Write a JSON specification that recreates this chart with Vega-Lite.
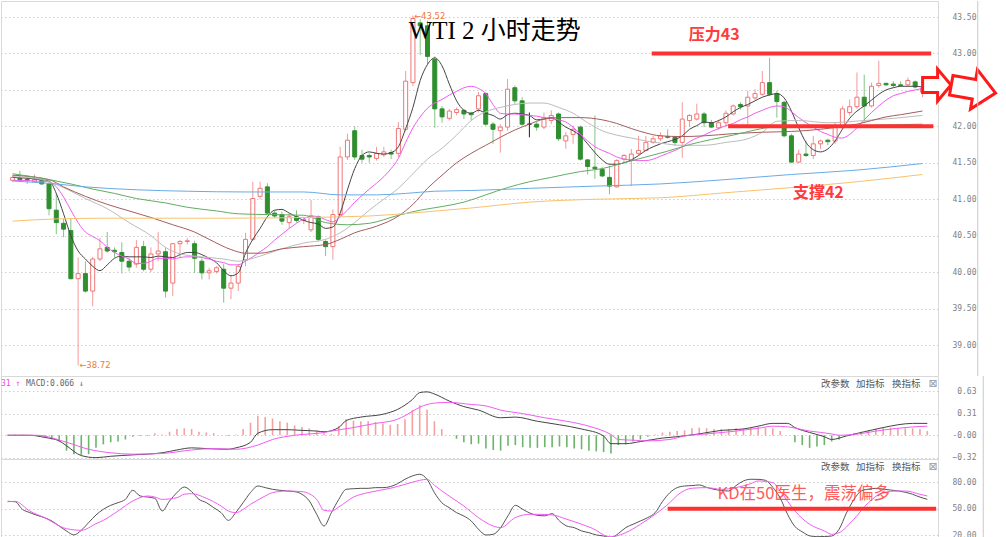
{
"$schema":"https://vega.github.io/schema/vega-lite/v6.json",
"padding":0,
"background":"white",
"spacing":0,
"bounds":"flush",
"resolve":{"scale":{"color":"independent"}},
"config":{"view":{"stroke":"#d9d9d9","strokeWidth":1},
"axis":{"labelFont":"DejaVu Sans Mono","labelFontSize":8,"labelColor":"#808080","labelAlign":"right","labelPadding":38,"domain":false,"ticks":false,"grid":true,"gridColor":"#cfcfcf","gridDash":[1.5,2.5],"gridWidth":1},
"text":{"font":"Noto Sans CJK SC"}},
"datasets":{
"candles":[
{"i":0,"o":41.26,"h":41.33,"l":41.24,"c":41.30},{"i":1,"o":41.29,"h":41.39,"l":41.24,"c":41.27},{"i":2,"o":41.27,"h":41.30,"l":41.21,"c":41.26},{"i":3,"o":41.24,"h":41.34,"l":41.23,"c":41.27},{"i":4,"o":41.26,"h":41.28,"l":41.20,"c":41.21},{"i":5,"o":41.21,"h":41.24,"l":40.78,"c":40.87},{"i":6,"o":40.85,"h":41.08,"l":40.52,"c":40.68},{"i":7,"o":40.67,"h":40.73,"l":40.48,"c":40.59},{"i":8,"o":40.57,"h":40.73,"l":39.90,"c":39.91},{"i":9,"o":39.91,"h":40.20,"l":38.72,"c":39.98},
{"i":10,"o":39.98,"h":40.15,"l":39.72,"c":39.74},{"i":11,"o":39.74,"h":40.21,"l":39.53,"c":40.18},{"i":12,"o":40.18,"h":40.47,"l":40.15,"c":40.32},{"i":13,"o":40.34,"h":40.55,"l":40.27,"c":40.29},{"i":14,"o":40.30,"h":40.34,"l":40.20,"c":40.28},{"i":15,"o":40.27,"h":40.41,"l":39.98,"c":40.15},{"i":16,"o":40.15,"h":40.19,"l":40.01,"c":40.07},{"i":17,"o":40.11,"h":40.44,"l":40.06,"c":40.34},{"i":18,"o":40.35,"h":40.43,"l":40.01,"c":40.04},{"i":19,"o":40.04,"h":40.34,"l":40.00,"c":40.25},
{"i":20,"o":40.25,"h":40.55,"l":40.15,"c":40.29},{"i":21,"o":40.28,"h":40.34,"l":39.65,"c":39.74},{"i":22,"o":39.85,"h":40.40,"l":39.67,"c":40.39},{"i":23,"o":40.39,"h":40.44,"l":40.20,"c":40.42},{"i":24,"o":40.42,"h":40.47,"l":40.38,"c":40.43},{"i":25,"o":40.39,"h":40.43,"l":39.99,"c":40.19},{"i":26,"o":40.15,"h":40.19,"l":39.90,"c":39.99},{"i":27,"o":39.99,"h":40.06,"l":39.90,"c":40.02},{"i":28,"o":40.01,"h":40.08,"l":39.98,"c":40.06},{"i":29,"o":40.04,"h":40.11,"l":39.58,"c":39.78},
{"i":30,"o":39.78,"h":39.96,"l":39.63,"c":39.85},{"i":31,"o":39.85,"h":40.11,"l":39.74,"c":40.08},{"i":32,"o":40.17,"h":40.54,"l":40.08,"c":40.45},{"i":33,"o":40.45,"h":41.24,"l":40.43,"c":41.01},{"i":34,"o":41.04,"h":41.24,"l":41.00,"c":41.15},{"i":35,"o":41.17,"h":41.22,"l":40.79,"c":40.81},{"i":36,"o":40.81,"h":40.85,"l":40.74,"c":40.77},{"i":37,"o":40.79,"h":40.83,"l":40.65,"c":40.70},{"i":38,"o":40.68,"h":40.80,"l":40.60,"c":40.76},{"i":39,"o":40.76,"h":40.85,"l":40.68,"c":40.71},
{"i":40,"o":40.71,"h":40.76,"l":40.66,"c":40.72},{"i":41,"o":40.58,"h":40.99,"l":40.55,"c":40.77},{"i":42,"o":40.76,"h":40.78,"l":40.42,"c":40.45},{"i":43,"o":40.42,"h":40.45,"l":40.22,"c":40.35},{"i":44,"o":40.35,"h":40.86,"l":40.17,"c":40.79},{"i":45,"o":40.79,"h":41.72,"l":40.76,"c":41.58},{"i":46,"o":41.58,"h":41.90,"l":41.54,"c":41.81},{"i":47,"o":41.94,"h":42.00,"l":41.54,"c":41.58},{"i":48,"o":41.60,"h":41.68,"l":41.50,"c":41.55},{"i":49,"o":41.60,"h":41.63,"l":41.50,"c":41.58},
{"i":50,"o":41.56,"h":41.72,"l":41.53,"c":41.63},{"i":51,"o":41.61,"h":41.72,"l":41.58,"c":41.65},{"i":52,"o":41.64,"h":41.68,"l":41.55,"c":41.62},{"i":53,"o":41.63,"h":42.06,"l":41.58,"c":41.97},{"i":54,"o":41.96,"h":42.76,"l":41.93,"c":42.62},{"i":55,"o":42.60,"h":43.52,"l":42.55,"c":43.48},{"i":56,"o":43.42,"h":43.47,"l":42.98,"c":43.38},{"i":57,"o":43.38,"h":43.45,"l":42.85,"c":42.96},{"i":58,"o":42.92,"h":42.96,"l":41.98,"c":42.24},{"i":59,"o":42.24,"h":42.28,"l":42.05,"c":42.13},
{"i":60,"o":42.11,"h":42.24,"l":42.08,"c":42.21},{"i":61,"o":42.19,"h":42.26,"l":42.15,"c":42.23},{"i":62,"o":42.22,"h":42.24,"l":42.10,"c":42.17},{"i":63,"o":42.18,"h":42.20,"l":42.08,"c":42.16},{"i":64,"o":42.24,"h":42.47,"l":42.19,"c":42.42},{"i":65,"o":42.45,"h":42.47,"l":42.01,"c":42.03},{"i":66,"o":42.03,"h":42.06,"l":41.76,"c":41.96},{"i":67,"o":41.94,"h":42.03,"l":41.64,"c":41.99},{"i":68,"o":41.99,"h":42.65,"l":41.94,"c":42.51},{"i":69,"o":42.53,"h":42.56,"l":42.31,"c":42.35},
{"i":70,"o":42.35,"h":42.40,"l":42.01,"c":42.03},{"i":71,"o":42.03,"h":42.19,"l":41.85,"c":42.03},{"i":72,"o":42.03,"h":42.06,"l":41.94,"c":41.99},{"i":73,"o":41.99,"h":42.19,"l":41.96,"c":42.12},{"i":74,"o":42.08,"h":42.22,"l":42.03,"c":42.15},{"i":75,"o":42.17,"h":42.19,"l":41.80,"c":41.83},{"i":76,"o":41.80,"h":41.92,"l":41.69,"c":41.87},{"i":77,"o":41.89,"h":42.01,"l":41.76,"c":41.96},{"i":78,"o":41.99,"h":42.01,"l":41.53,"c":41.55},{"i":79,"o":41.54,"h":41.55,"l":41.34,"c":41.45},
{"i":80,"o":41.44,"h":42.15,"l":41.28,"c":41.42},{"i":81,"o":41.41,"h":41.44,"l":41.30,"c":41.32},{"i":82,"o":41.30,"h":41.46,"l":41.07,"c":41.18},{"i":83,"o":41.17,"h":41.55,"l":41.16,"c":41.53},{"i":84,"o":41.55,"h":41.62,"l":41.50,"c":41.60},{"i":85,"o":41.53,"h":41.69,"l":41.18,"c":41.62},{"i":86,"o":41.63,"h":41.87,"l":41.60,"c":41.67},{"i":87,"o":41.67,"h":41.87,"l":41.66,"c":41.78},{"i":88,"o":41.78,"h":41.87,"l":41.76,"c":41.83},{"i":89,"o":41.83,"h":41.92,"l":41.80,"c":41.87},
{"i":90,"o":41.86,"h":41.96,"l":41.83,"c":41.85},{"i":91,"o":41.85,"h":41.87,"l":41.73,"c":41.78},{"i":92,"o":41.78,"h":42.33,"l":41.57,"c":42.10},{"i":93,"o":42.08,"h":42.17,"l":41.99,"c":42.15},{"i":94,"o":42.10,"h":42.31,"l":42.08,"c":42.17},{"i":95,"o":42.17,"h":42.20,"l":41.99,"c":42.05},{"i":96,"o":42.05,"h":42.09,"l":41.98,"c":41.99},{"i":97,"o":41.98,"h":42.09,"l":41.95,"c":42.05},{"i":98,"o":42.05,"h":42.22,"l":42.00,"c":42.18},{"i":99,"o":42.17,"h":42.30,"l":42.15,"c":42.28},
{"i":100,"o":42.30,"h":42.33,"l":42.23,"c":42.27},{"i":101,"o":42.28,"h":42.49,"l":41.99,"c":42.40},{"i":102,"o":42.39,"h":42.51,"l":42.36,"c":42.45},{"i":103,"o":42.44,"h":42.76,"l":42.42,"c":42.60},{"i":104,"o":42.60,"h":42.94,"l":42.42,"c":42.44},{"i":105,"o":42.45,"h":42.49,"l":42.12,"c":42.34},{"i":106,"o":42.33,"h":42.35,"l":41.85,"c":41.87},{"i":107,"o":41.87,"h":41.90,"l":41.50,"c":41.51},{"i":108,"o":41.51,"h":41.68,"l":41.50,"c":41.62},{"i":109,"o":41.62,"h":41.80,"l":41.58,"c":41.60},
{"i":110,"o":41.60,"h":41.87,"l":41.55,"c":41.76},{"i":111,"o":41.76,"h":41.82,"l":41.69,"c":41.80},{"i":112,"o":41.81,"h":41.83,"l":41.74,"c":41.79},{"i":113,"o":41.80,"h":42.05,"l":41.76,"c":42.00},{"i":114,"o":41.99,"h":42.28,"l":41.97,"c":42.24},{"i":115,"o":42.19,"h":42.37,"l":42.15,"c":42.27},{"i":116,"o":42.27,"h":42.74,"l":42.24,"c":42.40},{"i":117,"o":42.40,"h":42.71,"l":42.05,"c":42.28},{"i":118,"o":42.28,"h":42.60,"l":42.26,"c":42.55},{"i":119,"o":42.56,"h":42.90,"l":42.53,"c":42.59},
{"i":120,"o":42.59,"h":42.60,"l":42.55,"c":42.57},{"i":121,"o":42.58,"h":42.62,"l":42.53,"c":42.56},{"i":122,"o":42.57,"h":42.62,"l":42.54,"c":42.56},{"i":123,"o":42.57,"h":42.67,"l":42.55,"c":42.63},{"i":124,"o":42.61,"h":42.63,"l":42.52,"c":42.54},{"i":125,"o":42.47,"h":42.55,"l":42.40,"c":42.52}
],
"ma":[
{"i":0,"s":"MA5","v":41.30},{"i":5,"s":"MA5","v":41.25},{"i":6,"s":"MA5","v":41.08},{"i":7,"s":"MA5","v":40.80},{"i":8,"s":"MA5","v":40.50},{"i":9,"s":"MA5","v":40.29},{"i":10,"s":"MA5","v":40.18},{"i":11,"s":"MA5","v":40.08},{"i":12,"s":"MA5","v":40.02},{"i":13,"s":"MA5","v":40.10},{"i":14,"s":"MA5","v":40.19},{"i":15,"s":"MA5","v":40.22},{"i":16,"s":"MA5","v":40.21},{"i":17,"s":"MA5","v":40.21},{"i":18,"s":"MA5","v":40.21},{"i":19,"s":"MA5","v":40.20},{"i":20,"s":"MA5","v":40.22},{"i":21,"s":"MA5","v":40.21},{"i":22,"s":"MA5","v":40.20},{"i":23,"s":"MA5","v":40.24},{"i":24,"s":"MA5","v":40.27},{"i":25,"s":"MA5","v":40.27},{"i":26,"s":"MA5","v":40.24},{"i":27,"s":"MA5","v":40.19},{"i":28,"s":"MA5","v":40.13},{"i":29,"s":"MA5","v":40.02},{"i":30,"s":"MA5","v":39.95},{"i":31,"s":"MA5","v":39.99},{"i":32,"s":"MA5","v":40.26},{"i":33,"s":"MA5","v":40.45},{"i":34,"s":"MA5","v":40.60},{"i":35,"s":"MA5","v":40.76},{"i":36,"s":"MA5","v":40.85},{"i":37,"s":"MA5","v":40.86},{"i":38,"s":"MA5","v":40.81},{"i":39,"s":"MA5","v":40.76},{"i":40,"s":"MA5","v":40.71},{"i":41,"s":"MA5","v":40.68},{"i":42,"s":"MA5","v":40.66},{"i":43,"s":"MA5","v":40.60},{"i":44,"s":"MA5","v":40.62},{"i":45,"s":"MA5","v":40.81},{"i":46,"s":"MA5","v":41.13},{"i":47,"s":"MA5","v":41.42},{"i":48,"s":"MA5","v":41.60},{"i":49,"s":"MA5","v":41.65},{"i":50,"s":"MA5","v":41.63},{"i":51,"s":"MA5","v":41.62},{"i":52,"s":"MA5","v":41.64},{"i":53,"s":"MA5","v":41.72},{"i":54,"s":"MA5","v":41.97},{"i":55,"s":"MA5","v":42.26},{"i":56,"s":"MA5","v":42.63},{"i":57,"s":"MA5","v":42.85},{"i":58,"s":"MA5","v":42.94},{"i":59,"s":"MA5","v":42.83},{"i":60,"s":"MA5","v":42.58},{"i":61,"s":"MA5","v":42.35},{"i":62,"s":"MA5","v":42.22},{"i":63,"s":"MA5","v":42.18},{"i":64,"s":"MA5","v":42.22},{"i":65,"s":"MA5","v":42.18},{"i":66,"s":"MA5","v":42.15},{"i":67,"s":"MA5","v":42.10},{"i":68,"s":"MA5","v":42.16},{"i":69,"s":"MA5","v":42.18},{"i":70,"s":"MA5","v":42.17},{"i":71,"s":"MA5","v":42.15},{"i":72,"s":"MA5","v":42.09},{"i":73,"s":"MA5","v":42.10},{"i":74,"s":"MA5","v":42.12},{"i":75,"s":"MA5","v":42.06},{"i":76,"s":"MA5","v":41.99},{"i":77,"s":"MA5","v":41.94},{"i":78,"s":"MA5","v":41.87},{"i":79,"s":"MA5","v":41.76},{"i":80,"s":"MA5","v":41.64},{"i":81,"s":"MA5","v":41.54},{"i":82,"s":"MA5","v":41.48},{"i":83,"s":"MA5","v":41.48},{"i":84,"s":"MA5","v":41.50},{"i":85,"s":"MA5","v":41.54},{"i":86,"s":"MA5","v":41.60},{"i":87,"s":"MA5","v":41.67},{"i":88,"s":"MA5","v":41.72},{"i":89,"s":"MA5","v":41.76},{"i":90,"s":"MA5","v":41.79},{"i":91,"s":"MA5","v":41.82},{"i":92,"s":"MA5","v":41.87},{"i":93,"s":"MA5","v":41.96},{"i":94,"s":"MA5","v":42.01},{"i":95,"s":"MA5","v":42.06},{"i":96,"s":"MA5","v":42.05},{"i":97,"s":"MA5","v":42.08},{"i":98,"s":"MA5","v":42.13},{"i":99,"s":"MA5","v":42.20},{"i":100,"s":"MA5","v":42.26},{"i":101,"s":"MA5","v":42.30},{"i":102,"s":"MA5","v":42.35},{"i":103,"s":"MA5","v":42.40},{"i":104,"s":"MA5","v":42.43},{"i":105,"s":"MA5","v":42.45},{"i":106,"s":"MA5","v":42.39},{"i":107,"s":"MA5","v":42.21},{"i":108,"s":"MA5","v":41.98},{"i":109,"s":"MA5","v":41.78},{"i":110,"s":"MA5","v":41.68},{"i":111,"s":"MA5","v":41.65},{"i":112,"s":"MA5","v":41.69},{"i":113,"s":"MA5","v":41.80},{"i":114,"s":"MA5","v":41.96},{"i":115,"s":"MA5","v":42.11},{"i":116,"s":"MA5","v":42.21},{"i":117,"s":"MA5","v":42.28},{"i":118,"s":"MA5","v":42.36},{"i":119,"s":"MA5","v":42.44},{"i":120,"s":"MA5","v":42.50},{"i":121,"s":"MA5","v":42.53},{"i":122,"s":"MA5","v":42.55},{"i":123,"s":"MA5","v":42.55},{"i":124,"s":"MA5","v":42.55},{"i":125,"s":"MA5","v":42.54},
{"i":0,"s":"MA10","v":41.26},{"i":5,"s":"MA10","v":41.24},{"i":6,"s":"MA10","v":41.17},{"i":7,"s":"MA10","v":41.03},{"i":8,"s":"MA10","v":40.85},{"i":9,"s":"MA10","v":40.68},{"i":10,"s":"MA10","v":40.55},{"i":11,"s":"MA10","v":40.49},{"i":12,"s":"MA10","v":40.43},{"i":13,"s":"MA10","v":40.34},{"i":14,"s":"MA10","v":40.27},{"i":15,"s":"MA10","v":40.22},{"i":16,"s":"MA10","v":40.18},{"i":17,"s":"MA10","v":40.12},{"i":18,"s":"MA10","v":40.12},{"i":19,"s":"MA10","v":40.15},{"i":20,"s":"MA10","v":40.19},{"i":21,"s":"MA10","v":40.19},{"i":22,"s":"MA10","v":40.18},{"i":23,"s":"MA10","v":40.20},{"i":24,"s":"MA10","v":40.21},{"i":25,"s":"MA10","v":40.21},{"i":26,"s":"MA10","v":40.20},{"i":27,"s":"MA10","v":40.18},{"i":28,"s":"MA10","v":40.15},{"i":29,"s":"MA10","v":40.13},{"i":30,"s":"MA10","v":40.10},{"i":31,"s":"MA10","v":40.10},{"i":32,"s":"MA10","v":40.15},{"i":33,"s":"MA10","v":40.21},{"i":34,"s":"MA10","v":40.28},{"i":35,"s":"MA10","v":40.35},{"i":36,"s":"MA10","v":40.44},{"i":37,"s":"MA10","v":40.52},{"i":38,"s":"MA10","v":40.60},{"i":39,"s":"MA10","v":40.67},{"i":40,"s":"MA10","v":40.73},{"i":41,"s":"MA10","v":40.77},{"i":42,"s":"MA10","v":40.76},{"i":43,"s":"MA10","v":40.72},{"i":44,"s":"MA10","v":40.69},{"i":45,"s":"MA10","v":40.76},{"i":46,"s":"MA10","v":40.85},{"i":47,"s":"MA10","v":40.96},{"i":48,"s":"MA10","v":41.05},{"i":49,"s":"MA10","v":41.14},{"i":50,"s":"MA10","v":41.22},{"i":51,"s":"MA10","v":41.31},{"i":52,"s":"MA10","v":41.42},{"i":53,"s":"MA10","v":41.56},{"i":54,"s":"MA10","v":41.78},{"i":55,"s":"MA10","v":41.98},{"i":56,"s":"MA10","v":42.13},{"i":57,"s":"MA10","v":42.25},{"i":58,"s":"MA10","v":42.32},{"i":59,"s":"MA10","v":42.37},{"i":60,"s":"MA10","v":42.43},{"i":61,"s":"MA10","v":42.48},{"i":62,"s":"MA10","v":42.53},{"i":63,"s":"MA10","v":42.55},{"i":64,"s":"MA10","v":42.52},{"i":65,"s":"MA10","v":42.45},{"i":66,"s":"MA10","v":42.30},{"i":67,"s":"MA10","v":42.18},{"i":68,"s":"MA10","v":42.17},{"i":69,"s":"MA10","v":42.17},{"i":70,"s":"MA10","v":42.16},{"i":71,"s":"MA10","v":42.15},{"i":72,"s":"MA10","v":42.14},{"i":73,"s":"MA10","v":42.12},{"i":74,"s":"MA10","v":42.11},{"i":75,"s":"MA10","v":42.09},{"i":76,"s":"MA10","v":42.06},{"i":77,"s":"MA10","v":41.99},{"i":78,"s":"MA10","v":41.89},{"i":79,"s":"MA10","v":41.80},{"i":80,"s":"MA10","v":41.72},{"i":81,"s":"MA10","v":41.67},{"i":82,"s":"MA10","v":41.63},{"i":83,"s":"MA10","v":41.58},{"i":84,"s":"MA10","v":41.55},{"i":85,"s":"MA10","v":41.54},{"i":86,"s":"MA10","v":41.53},{"i":87,"s":"MA10","v":41.53},{"i":88,"s":"MA10","v":41.55},{"i":89,"s":"MA10","v":41.59},{"i":90,"s":"MA10","v":41.63},{"i":91,"s":"MA10","v":41.67},{"i":92,"s":"MA10","v":41.72},{"i":93,"s":"MA10","v":41.79},{"i":94,"s":"MA10","v":41.84},{"i":95,"s":"MA10","v":41.88},{"i":96,"s":"MA10","v":41.93},{"i":97,"s":"MA10","v":41.97},{"i":98,"s":"MA10","v":42.01},{"i":99,"s":"MA10","v":42.04},{"i":100,"s":"MA10","v":42.09},{"i":101,"s":"MA10","v":42.13},{"i":102,"s":"MA10","v":42.18},{"i":103,"s":"MA10","v":42.22},{"i":104,"s":"MA10","v":42.26},{"i":105,"s":"MA10","v":42.28},{"i":106,"s":"MA10","v":42.27},{"i":107,"s":"MA10","v":42.20},{"i":108,"s":"MA10","v":42.12},{"i":109,"s":"MA10","v":42.05},{"i":110,"s":"MA10","v":41.99},{"i":111,"s":"MA10","v":41.93},{"i":112,"s":"MA10","v":41.89},{"i":113,"s":"MA10","v":41.85},{"i":114,"s":"MA10","v":41.84},{"i":115,"s":"MA10","v":41.89},{"i":116,"s":"MA10","v":41.98},{"i":117,"s":"MA10","v":42.09},{"i":118,"s":"MA10","v":42.19},{"i":119,"s":"MA10","v":42.28},{"i":120,"s":"MA10","v":42.36},{"i":121,"s":"MA10","v":42.42},{"i":122,"s":"MA10","v":42.45},{"i":123,"s":"MA10","v":42.48},{"i":124,"s":"MA10","v":42.50},{"i":125,"s":"MA10","v":42.52},
{"i":0,"s":"MA20","v":41.31},{"i":3,"s":"MA20","v":41.29},{"i":5,"s":"MA20","v":41.24},{"i":7,"s":"MA20","v":41.16},{"i":10,"s":"MA20","v":41.01},{"i":13,"s":"MA20","v":40.87},{"i":16,"s":"MA20","v":40.68},{"i":19,"s":"MA20","v":40.50},{"i":21,"s":"MA20","v":40.34},{"i":23,"s":"MA20","v":40.25},{"i":26,"s":"MA20","v":40.21},{"i":29,"s":"MA20","v":40.18},{"i":31,"s":"MA20","v":40.15},{"i":34,"s":"MA20","v":40.22},{"i":37,"s":"MA20","v":40.32},{"i":40,"s":"MA20","v":40.40},{"i":43,"s":"MA20","v":40.45},{"i":45,"s":"MA20","v":40.54},{"i":47,"s":"MA20","v":40.68},{"i":49,"s":"MA20","v":40.85},{"i":51,"s":"MA20","v":41.00},{"i":53,"s":"MA20","v":41.15},{"i":55,"s":"MA20","v":41.35},{"i":57,"s":"MA20","v":41.55},{"i":59,"s":"MA20","v":41.70},{"i":61,"s":"MA20","v":41.88},{"i":63,"s":"MA20","v":42.08},{"i":65,"s":"MA20","v":42.20},{"i":67,"s":"MA20","v":42.26},{"i":69,"s":"MA20","v":42.30},{"i":71,"s":"MA20","v":42.32},{"i":73,"s":"MA20","v":42.32},{"i":75,"s":"MA20","v":42.26},{"i":77,"s":"MA20","v":42.18},{"i":79,"s":"MA20","v":42.05},{"i":81,"s":"MA20","v":41.94},{"i":83,"s":"MA20","v":41.88},{"i":85,"s":"MA20","v":41.84},{"i":87,"s":"MA20","v":41.80},{"i":89,"s":"MA20","v":41.77},{"i":92,"s":"MA20","v":41.74},{"i":95,"s":"MA20","v":41.74},{"i":98,"s":"MA20","v":41.78},{"i":101,"s":"MA20","v":41.83},{"i":103,"s":"MA20","v":41.92},{"i":105,"s":"MA20","v":42.07},{"i":108,"s":"MA20","v":42.08},{"i":112,"s":"MA20","v":42.05},{"i":117,"s":"MA20","v":42.08},{"i":121,"s":"MA20","v":42.11},{"i":125,"s":"MA20","v":42.15},
{"i":0,"s":"MA30","v":41.33},{"i":5,"s":"MA30","v":41.27},{"i":7,"s":"MA30","v":41.17},{"i":10,"s":"MA30","v":41.04},{"i":13,"s":"MA30","v":40.93},{"i":16,"s":"MA30","v":40.84},{"i":19,"s":"MA30","v":40.75},{"i":22,"s":"MA30","v":40.65},{"i":25,"s":"MA30","v":40.55},{"i":27,"s":"MA30","v":40.45},{"i":30,"s":"MA30","v":40.31},{"i":32,"s":"MA30","v":40.26},{"i":34,"s":"MA30","v":40.26},{"i":37,"s":"MA30","v":40.32},{"i":40,"s":"MA30","v":40.35},{"i":43,"s":"MA30","v":40.38},{"i":45,"s":"MA30","v":40.45},{"i":47,"s":"MA30","v":40.54},{"i":50,"s":"MA30","v":40.63},{"i":53,"s":"MA30","v":40.77},{"i":55,"s":"MA30","v":40.93},{"i":57,"s":"MA30","v":41.15},{"i":59,"s":"MA30","v":41.33},{"i":61,"s":"MA30","v":41.50},{"i":63,"s":"MA30","v":41.63},{"i":65,"s":"MA30","v":41.74},{"i":67,"s":"MA30","v":41.85},{"i":69,"s":"MA30","v":41.95},{"i":71,"s":"MA30","v":42.03},{"i":73,"s":"MA30","v":42.10},{"i":75,"s":"MA30","v":42.12},{"i":78,"s":"MA30","v":42.12},{"i":81,"s":"MA30","v":42.09},{"i":83,"s":"MA30","v":42.04},{"i":85,"s":"MA30","v":41.97},{"i":87,"s":"MA30","v":41.91},{"i":89,"s":"MA30","v":41.87},{"i":92,"s":"MA30","v":41.86},{"i":95,"s":"MA30","v":41.87},{"i":99,"s":"MA30","v":41.90},{"i":103,"s":"MA30","v":41.92},{"i":107,"s":"MA30","v":41.93},{"i":111,"s":"MA30","v":41.96},{"i":114,"s":"MA30","v":42.00},{"i":116,"s":"MA30","v":42.03},{"i":118,"s":"MA30","v":42.08},{"i":120,"s":"MA30","v":42.13},{"i":122,"s":"MA30","v":42.16},{"i":125,"s":"MA30","v":42.21},
{"i":0,"s":"MA60","v":41.35},{"i":5,"s":"MA60","v":41.27},{"i":8,"s":"MA60","v":41.21},{"i":11,"s":"MA60","v":41.14},{"i":14,"s":"MA60","v":41.08},{"i":17,"s":"MA60","v":41.01},{"i":21,"s":"MA60","v":40.95},{"i":24,"s":"MA60","v":40.89},{"i":28,"s":"MA60","v":40.84},{"i":31,"s":"MA60","v":40.80},{"i":35,"s":"MA60","v":40.79},{"i":40,"s":"MA60","v":40.78},{"i":43,"s":"MA60","v":40.68},{"i":46,"s":"MA60","v":40.65},{"i":49,"s":"MA60","v":40.67},{"i":53,"s":"MA60","v":40.78},{"i":56,"s":"MA60","v":40.85},{"i":59,"s":"MA60","v":40.90},{"i":62,"s":"MA60","v":40.96},{"i":65,"s":"MA60","v":41.06},{"i":68,"s":"MA60","v":41.16},{"i":71,"s":"MA60","v":41.24},{"i":74,"s":"MA60","v":41.30},{"i":78,"s":"MA60","v":41.38},{"i":81,"s":"MA60","v":41.42},{"i":84,"s":"MA60","v":41.50},{"i":87,"s":"MA60","v":41.58},{"i":90,"s":"MA60","v":41.66},{"i":93,"s":"MA60","v":41.75},{"i":96,"s":"MA60","v":41.82},{"i":99,"s":"MA60","v":41.88},{"i":102,"s":"MA60","v":41.95},{"i":105,"s":"MA60","v":42.00},{"i":110,"s":"MA60","v":42.01},{"i":115,"s":"MA60","v":42.01},{"i":120,"s":"MA60","v":42.02},{"i":125,"s":"MA60","v":42.03},
{"i":0,"s":"MA120","v":41.25},{"i":6,"s":"MA120","v":41.21},{"i":10,"s":"MA120","v":41.17},{"i":17,"s":"MA120","v":41.13},{"i":24,"s":"MA120","v":41.11},{"i":32,"s":"MA120","v":41.10},{"i":40,"s":"MA120","v":41.10},{"i":45,"s":"MA120","v":41.06},{"i":50,"s":"MA120","v":41.06},{"i":54,"s":"MA120","v":41.08},{"i":58,"s":"MA120","v":41.11},{"i":63,"s":"MA120","v":41.12},{"i":71,"s":"MA120","v":41.15},{"i":80,"s":"MA120","v":41.18},{"i":89,"s":"MA120","v":41.21},{"i":98,"s":"MA120","v":41.27},{"i":107,"s":"MA120","v":41.34},{"i":116,"s":"MA120","v":41.40},{"i":125,"s":"MA120","v":41.49},
{"i":0,"s":"MA250","v":40.70},{"i":6,"s":"MA250","v":40.73},{"i":13,"s":"MA250","v":40.74},{"i":30,"s":"MA250","v":40.74},{"i":40,"s":"MA250","v":40.75},{"i":49,"s":"MA250","v":40.77},{"i":56,"s":"MA250","v":40.82},{"i":63,"s":"MA250","v":40.88},{"i":71,"s":"MA250","v":40.96},{"i":80,"s":"MA250","v":41.00},{"i":89,"s":"MA250","v":41.02},{"i":98,"s":"MA250","v":41.09},{"i":107,"s":"MA250","v":41.16},{"i":116,"s":"MA250","v":41.24},{"i":125,"s":"MA250","v":41.34}
],
"hist":[
{"i":0,"h":0.01},{"i":1,"h":0.01},{"i":2,"h":0.01},{"i":3,"h":0.0},{"i":4,"h":-0.01},{"i":5,"h":-0.03},{"i":6,"h":-0.06},{"i":7,"h":-0.09},{"i":8,"h":-0.22},{"i":9,"h":-0.27},{"i":10,"h":-0.28},{"i":11,"h":-0.27},{"i":12,"h":-0.18},{"i":13,"h":-0.13},{"i":14,"h":-0.10},{"i":15,"h":-0.09},{"i":16,"h":-0.06},{"i":17,"h":-0.02},{"i":18,"h":-0.01},{"i":19,"h":-0.01},{"i":20,"h":0.03},{"i":21,"h":0.01},{"i":22,"h":0.05},{"i":23,"h":0.09},{"i":24,"h":0.10},{"i":25,"h":0.09},{"i":26,"h":0.05},{"i":27,"h":0.04},{"i":28,"h":0.03},{"i":29,"h":0.0},{"i":30,"h":-0.01},{"i":31,"h":0.01},{"i":32,"h":0.09},{"i":33,"h":0.18},{"i":34,"h":0.28},{"i":35,"h":0.26},{"i":36,"h":0.24},{"i":37,"h":0.20},{"i":38,"h":0.18},{"i":39,"h":0.14},{"i":40,"h":0.12},{"i":41,"h":0.10},{"i":42,"h":0.07},{"i":43,"h":0.04},{"i":44,"h":0.02},{"i":45,"h":0.13},{"i":46,"h":0.23},{"i":47,"h":0.21},{"i":48,"h":0.20},{"i":49,"h":0.20},{"i":50,"h":0.19},{"i":51,"h":0.17},{"i":52,"h":0.15},{"i":53,"h":0.16},{"i":54,"h":0.23},{"i":55,"h":0.36},{"i":56,"h":0.43},{"i":57,"h":0.37},{"i":58,"h":0.20},{"i":59,"h":0.09},{"i":60,"h":0.0},{"i":61,"h":-0.05},{"i":62,"h":-0.10},{"i":63,"h":-0.13},{"i":64,"h":-0.12},{"i":65,"h":-0.19},{"i":66,"h":-0.21},{"i":67,"h":-0.22},{"i":68,"h":-0.15},{"i":69,"h":-0.14},{"i":70,"h":-0.17},{"i":71,"h":-0.18},{"i":72,"h":-0.18},{"i":73,"h":-0.17},{"i":74,"h":-0.17},{"i":75,"h":-0.16},{"i":76,"h":-0.17},{"i":77,"h":-0.19},{"i":78,"h":-0.20},{"i":79,"h":-0.22},{"i":80,"h":-0.23},{"i":81,"h":-0.24},{"i":82,"h":-0.26},{"i":83,"h":-0.14},{"i":84,"h":-0.13},{"i":85,"h":-0.09},{"i":86,"h":-0.06},{"i":87,"h":-0.02},{"i":88,"h":0.01},{"i":89,"h":0.04},{"i":90,"h":0.05},{"i":91,"h":0.06},{"i":92,"h":0.07},{"i":93,"h":0.10},{"i":94,"h":0.11},{"i":95,"h":0.10},{"i":96,"h":0.09},{"i":97,"h":0.09},{"i":98,"h":0.09},{"i":99,"h":0.10},{"i":100,"h":0.10},{"i":101,"h":0.11},{"i":102,"h":0.12},{"i":103,"h":0.11},{"i":104,"h":0.10},{"i":105,"h":0.06},{"i":106,"h":0.0},{"i":107,"h":-0.10},{"i":108,"h":-0.14},{"i":109,"h":-0.18},{"i":110,"h":-0.16},{"i":111,"h":-0.14},{"i":112,"h":-0.09},{"i":113,"h":-0.06},{"i":114,"h":0.01},{"i":115,"h":0.03},{"i":116,"h":0.05},{"i":117,"h":0.07},{"i":118,"h":0.09},{"i":119,"h":0.11},{"i":120,"h":0.11},{"i":121,"h":0.10},{"i":122,"h":0.10},{"i":123,"h":0.10},{"i":124,"h":0.09},{"i":125,"h":0.06}
],
"dif":[
{"i":0,"v":0.0},{"i":3,"v":0.0},{"i":5,"v":-0.03},{"i":7,"v":-0.08},{"i":8,"v":-0.15},{"i":10,"v":-0.29},{"i":12,"v":-0.32},{"i":14,"v":-0.30},{"i":17,"v":-0.28},{"i":21,"v":-0.25},{"i":23,"v":-0.21},{"i":25,"v":-0.18},{"i":27,"v":-0.19},{"i":30,"v":-0.20},{"i":31,"v":-0.18},{"i":33,"v":-0.10},{"i":34,"v":0.03},{"i":36,"v":0.08},{"i":38,"v":0.08},{"i":40,"v":0.07},{"i":42,"v":0.06},{"i":43,"v":0.05},{"i":45,"v":0.11},{"i":46,"v":0.21},{"i":48,"v":0.26},{"i":51,"v":0.30},{"i":53,"v":0.37},{"i":55,"v":0.51},{"i":56,"v":0.61},{"i":57,"v":0.62},{"i":58,"v":0.59},{"i":60,"v":0.49},{"i":62,"v":0.41},{"i":64,"v":0.36},{"i":67,"v":0.25},{"i":69,"v":0.26},{"i":72,"v":0.20},{"i":75,"v":0.15},{"i":78,"v":0.09},{"i":81,"v":-0.01},{"i":82,"v":-0.12},{"i":84,"v":-0.12},{"i":86,"v":-0.09},{"i":89,"v":-0.04},{"i":91,"v":-0.02},{"i":94,"v":0.02},{"i":97,"v":0.07},{"i":100,"v":0.09},{"i":102,"v":0.13},{"i":104,"v":0.17},{"i":106,"v":0.17},{"i":107,"v":0.11},{"i":109,"v":0.04},{"i":111,"v":-0.02},{"i":112,"v":-0.06},{"i":114,"v":-0.01},{"i":116,"v":0.04},{"i":119,"v":0.11},{"i":121,"v":0.15},{"i":123,"v":0.17},{"i":125,"v":0.17}
],
"dea":[
{"i":0,"v":0.0},{"i":4,"v":0.0},{"i":8,"v":-0.10},{"i":11,"v":-0.20},{"i":14,"v":-0.25},{"i":17,"v":-0.27},{"i":21,"v":-0.26},{"i":25,"v":-0.21},{"i":28,"v":-0.19},{"i":31,"v":-0.20},{"i":34,"v":-0.14},{"i":36,"v":-0.06},{"i":39,"v":0.0},{"i":43,"v":0.04},{"i":44,"v":0.06},{"i":47,"v":0.11},{"i":50,"v":0.17},{"i":52,"v":0.20},{"i":53,"v":0.23},{"i":54,"v":0.28},{"i":55,"v":0.34},{"i":56,"v":0.40},{"i":57,"v":0.44},{"i":58,"v":0.46},{"i":60,"v":0.47},{"i":63,"v":0.44},{"i":65,"v":0.42},{"i":67,"v":0.36},{"i":70,"v":0.31},{"i":73,"v":0.25},{"i":76,"v":0.20},{"i":79,"v":0.13},{"i":82,"v":0.01},{"i":83,"v":-0.06},{"i":85,"v":-0.07},{"i":87,"v":-0.08},{"i":90,"v":-0.06},{"i":92,"v":-0.01},{"i":95,"v":0.02},{"i":99,"v":0.06},{"i":102,"v":0.10},{"i":104,"v":0.13},{"i":106,"v":0.12},{"i":109,"v":0.06},{"i":112,"v":0.02},{"i":113,"v":0.0},{"i":115,"v":0.01},{"i":118,"v":0.06},{"i":121,"v":0.10},{"i":123,"v":0.12},{"i":125,"v":0.13}
],
"kk":[
{"i":0,"v":58.3},{"i":1,"v":57.9},{"i":2,"v":49.3},{"i":3,"v":45.6},{"i":4,"v":42.5},{"i":5,"v":39.9},{"i":6,"v":36.2},{"i":7,"v":30.5},{"i":8,"v":24.9},{"i":9,"v":20.5},{"i":10,"v":25.7},{"i":11,"v":34.3},{"i":12,"v":42.9},{"i":13,"v":49.3},{"i":14,"v":53.8},{"i":15,"v":56.8},{"i":16,"v":60.5},{"i":17,"v":70.7},{"i":18,"v":64.3},{"i":19,"v":63.1},{"i":20,"v":61.7},{"i":21,"v":47.4},{"i":22,"v":58.7},{"i":23,"v":68.1},{"i":24,"v":74.4},{"i":25,"v":69.2},{"i":26,"v":60.5},{"i":27,"v":56.8},{"i":28,"v":51.2},{"i":29,"v":45.6},{"i":30,"v":36.9},{"i":31,"v":45.6},{"i":32,"v":56.8},{"i":33,"v":68.1},{"i":34,"v":75.5},{"i":35,"v":73.7},{"i":36,"v":71.8},{"i":37,"v":70.7},{"i":38,"v":69.9},{"i":39,"v":69.2},{"i":40,"v":66.2},{"i":41,"v":58.7},{"i":42,"v":43.7},{"i":43,"v":30.5},{"i":44,"v":45.6},{"i":45,"v":60.5},{"i":46,"v":71.8},{"i":47,"v":72.5},{"i":48,"v":72.9},{"i":49,"v":72.9},{"i":50,"v":73.7},{"i":51,"v":73.7},{"i":52,"v":74.8},{"i":53,"v":78.2},{"i":54,"v":83.1},{"i":55,"v":86.8},{"i":56,"v":88.7},{"i":57,"v":83.1},{"i":58,"v":68.1},{"i":59,"v":56.8},{"i":60,"v":51.2},{"i":61,"v":45.6},{"i":62,"v":41.8},{"i":63,"v":36.2},{"i":64,"v":26.8},{"i":65,"v":20.4},{"i":66,"v":21.2},{"i":67,"v":28.7},{"i":68,"v":42.0},{"i":69,"v":53.8},{"i":70,"v":49.3},{"i":71,"v":45.0},{"i":72,"v":42.5},{"i":73,"v":42.0},{"i":74,"v":44.4},{"i":75,"v":36.2},{"i":76,"v":30.5},{"i":77,"v":28.7},{"i":78,"v":25.0},{"i":79,"v":23.0},{"i":80,"v":20.5},{"i":81,"v":19.3},{"i":82,"v":17.4},{"i":83,"v":22.0},{"i":84,"v":28.7},{"i":85,"v":32.5},{"i":86,"v":36.2},{"i":87,"v":40.0},{"i":88,"v":45.5},{"i":89,"v":58.0},{"i":90,"v":68.0},{"i":91,"v":73.7},{"i":92,"v":75.5},{"i":93,"v":76.0},{"i":94,"v":76.7},{"i":95,"v":74.0},{"i":96,"v":71.8},{"i":97,"v":70.5},{"i":98,"v":69.9},{"i":99,"v":76.0},{"i":100,"v":81.2},{"i":101,"v":83.1},{"i":102,"v":83.0},{"i":103,"v":81.9},{"i":104,"v":74.0},{"i":105,"v":62.0},{"i":106,"v":43.7},{"i":107,"v":30.0},{"i":108,"v":24.0},{"i":109,"v":19.5},{"i":110,"v":18.5},{"i":111,"v":18.7},{"i":112,"v":19.3},{"i":113,"v":26.8},{"i":114,"v":45.0},{"i":115,"v":60.0},{"i":116,"v":69.9},{"i":117,"v":72.0},{"i":118,"v":72.9},{"i":119,"v":72.0},{"i":120,"v":71.0},{"i":121,"v":70.0},{"i":122,"v":68.5},{"i":123,"v":66.2},{"i":124,"v":63.0},{"i":125,"v":60.5}
],
"dd":[
{"i":0,"v":57.9},{"i":1,"v":58.3},{"i":3,"v":47.4},{"i":5,"v":39.9},{"i":8,"v":27.5},{"i":10,"v":25.7},{"i":12,"v":33.1},{"i":13,"v":36.9},{"i":15,"v":47.4},{"i":17,"v":58.7},{"i":19,"v":64.3},{"i":20,"v":63.1},{"i":21,"v":60.5},{"i":23,"v":62.4},{"i":24,"v":66.2},{"i":25,"v":66.9},{"i":27,"v":61.7},{"i":29,"v":53.0},{"i":30,"v":47.4},{"i":31,"v":45.6},{"i":33,"v":54.9},{"i":35,"v":64.3},{"i":36,"v":68.1},{"i":38,"v":69.9},{"i":40,"v":69.2},{"i":42,"v":60.5},{"i":43,"v":48.1},{"i":44,"v":47.4},{"i":45,"v":51.9},{"i":47,"v":63.1},{"i":49,"v":68.1},{"i":52,"v":72.9},{"i":54,"v":77.4},{"i":56,"v":81.9},{"i":57,"v":83.1},{"i":58,"v":76.3},{"i":60,"v":64.3},{"i":62,"v":53.0},{"i":64,"v":39.9},{"i":66,"v":30.5},{"i":67,"v":28.7},{"i":69,"v":40.0},{"i":71,"v":43.7},{"i":72,"v":43.7},{"i":74,"v":43.0},{"i":76,"v":38.1},{"i":78,"v":32.5},{"i":80,"v":25.7},{"i":81,"v":20.5},{"i":82,"v":18.5},{"i":84,"v":23.0},{"i":86,"v":32.5},{"i":88,"v":43.7},{"i":90,"v":56.8},{"i":91,"v":65.0},{"i":93,"v":73.0},{"i":95,"v":73.7},{"i":97,"v":71.8},{"i":99,"v":73.7},{"i":101,"v":78.2},{"i":102,"v":81.2},{"i":104,"v":79.3},{"i":105,"v":69.9},{"i":107,"v":47.4},{"i":109,"v":32.5},{"i":111,"v":25.0},{"i":112,"v":21.2},{"i":113,"v":23.0},{"i":115,"v":38.1},{"i":117,"v":56.8},{"i":119,"v":68.1},{"i":121,"v":69.9},{"i":122,"v":69.9},{"i":124,"v":66.2},{"i":125,"v":64.3}
]
},
"vconcat":[
{
"width":937,"height":375,
"encoding":{"x":{"field":"i","type":"quantitative","scale":{"domain":[-0.91,126.45],"nice":false,"zero":false},"axis":null}},
"layer":[
{"data":{"name":"candles"},"mark":{"type":"rule","strokeWidth":1},
"encoding":{"y":{"field":"l","type":"quantitative","title":null,"scale":{"domain":[38.575,43.72],"nice":false,"zero":false},"axis":{"orient":"right","values":[39,39.5,40,40.5,41,41.5,42,42.5,43,43.5],"format":".2f"}},
"y2":{"field":"h"},
"color":{"condition":[{"test":"datum.c==datum.o","value":"#222222"},{"test":"datum.c>datum.o","value":"#f39a9a"}],"value":"#86c386"}}},
{"data":{"name":"candles"},"mark":{"type":"bar","width":4,"strokeWidth":1},
"encoding":{"y":{"field":"o","type":"quantitative","title":null,"scale":{"domain":[38.575,43.72],"nice":false,"zero":false},"axis":{"orient":"right","values":[39,39.5,40,40.5,41,41.5,42,42.5,43,43.5],"format":".2f"}},
"y2":{"field":"c"},
"fill":{"condition":[{"test":"datum.c==datum.o","value":"#222222"},{"test":"datum.c>datum.o","value":"#ffffff"}],"value":"#2f8f2f"},
"stroke":{"condition":[{"test":"datum.c==datum.o","value":"#222222"},{"test":"datum.c>datum.o","value":"#ef7575"}],"value":"#2f8f2f"}}},
{"data":{"name":"ma"},"mark":{"type":"line","strokeWidth":1,"interpolate":"monotone"},
"encoding":{"y":{"field":"v","type":"quantitative","title":null,"scale":{"domain":[38.575,43.72],"nice":false,"zero":false},"axis":{"orient":"right","values":[39,39.5,40,40.5,41,41.5,42,42.5,43,43.5],"format":".2f"}},
"color":{"field":"s","type":"nominal","scale":{"domain":["MA250","MA120","MA60","MA30","MA20","MA10","MA5"],"range":["#f8c26c","#69abe6","#62ad62","#a85c5c","#bcbcbc","#f25cf2","#454545"]},"legend":null}}},
{"data":{"values":[{"i":87.8,"i2":126.2,"p":43.0},{"i":98.3,"i2":126.5,"p":42.0}]},"mark":{"type":"rule","strokeWidth":4,"color":"#ff3030"},
"encoding":{"x2":{"field":"i2"},"y":{"field":"p","type":"quantitative","title":null,"scale":{"domain":[38.575,43.72],"nice":false,"zero":false},"axis":{"orient":"right","values":[39,39.5,40,40.5,41,41.5,42,42.5,43,43.5],"format":".2f"}}}},
{"data":{"values":[{"i":66.24,"p":43.31,"t":"WTI 2 小时走势"}]},"mark":{"type":"text","font":"Liberation Serif, Noto Sans CJK SC","fontSize":25,"color":"#000000","align":"center","baseline":"middle"},
"encoding":{"y":{"field":"p","type":"quantitative","title":null,"scale":{"domain":[38.575,43.72],"nice":false,"zero":false},"axis":{"orient":"right","values":[39,39.5,40,40.5,41,41.5,42,42.5,43,43.5],"format":".2f"}},"text":{"field":"t"}}},
{"data":{"values":[{"i":96.4,"p":43.26,"t":"压力43"},{"i":110.7,"p":41.08,"t":"支撑42"}]},"mark":{"type":"text","font":"Noto Sans CJK SC","fontSize":16,"fontWeight":"bold","color":"#ff3b3b","align":"center","baseline":"middle"},
"encoding":{"y":{"field":"p","type":"quantitative","title":null,"scale":{"domain":[38.575,43.72],"nice":false,"zero":false},"axis":{"orient":"right","values":[39,39.5,40,40.5,41,41.5,42,42.5,43,43.5],"format":".2f"}},"text":{"field":"t"}}},
{"data":{"values":[{"i":55,"p":43.52,"t":"←43.52"},{"i":9,"p":38.72,"t":"←38.72"}]},"mark":{"type":"text","font":"DejaVu Sans","fontSize":8.5,"color":"#ee7a3c","align":"left","baseline":"middle","dx":1},
"encoding":{"y":{"field":"p","type":"quantitative","title":null,"scale":{"domain":[38.575,43.72],"nice":false,"zero":false},"axis":{"orient":"right","values":[39,39.5,40,40.5,41,41.5,42,42.5,43,43.5],"format":".2f"}},"text":{"field":"t"}}},
{"data":{"values":[{"i":127.0,"p":42.567}]},"mark":{"type":"point","filled":false,"fill":"#ffffff","fillOpacity":1,"stroke":"#ff1a1a","strokeWidth":3,"opacity":1,"size":1600,"shape":"M-0.72,-0.375L0.03,-0.375L0.03,-0.8L0.7,0L0.03,0.8L0.03,0.375L-0.72,0.375Z"},
"encoding":{"y":{"field":"p","type":"quantitative","title":null,"scale":{"domain":[38.575,43.72],"nice":false,"zero":false},"axis":{"orient":"right","values":[39,39.5,40,40.5,41,41.5,42,42.5,43,43.5],"format":".2f"}}}},
{"data":{"values":[{"i":132.0,"p":42.51}]},"mark":{"type":"point","filled":false,"fill":"#ffffff","fillOpacity":1,"stroke":"#ff1a1a","strokeWidth":3,"opacity":1,"size":3600,"angle":10,"shape":"M-0.75,-0.33L0.02,-0.33L0.02,-0.67L0.75,0L0.02,0.67L0.02,0.33L-0.75,0.33Z"},
"encoding":{"y":{"field":"p","type":"quantitative","title":null,"scale":{"domain":[38.575,43.72],"nice":false,"zero":false},"axis":{"orient":"right","values":[39,39.5,40,40.5,41,41.5,42,42.5,43,43.5],"format":".2f"}}}},
{"data":{"values":[{"i":132.6}]},"mark":{"type":"rule","color":"#c8c8c8","strokeWidth":1},"encoding":{}}
]
},
{
"width":937,"height":83,
"encoding":{"x":{"field":"i","type":"quantitative","scale":{"domain":[-0.91,126.45],"nice":false,"zero":false},"axis":null}},
"layer":[
{"data":{"name":"hist"},"mark":{"type":"rule","strokeWidth":1.6},
"encoding":{"y":{"field":"h","type":"quantitative","title":null,"scale":{"domain":[-0.339,0.847],"nice":false,"zero":false},"axis":{"orient":"right","values":[0.63,0.31,0,-0.32],"labelExpr":"datum.value==0?'-0.00':format(datum.value,'.2f')"}},
"y2":{"datum":0},
"color":{"condition":{"test":"datum.h>=0","value":"#f3a1a1"},"value":"#6cb46c"}}},
{"data":{"name":"dif"},"mark":{"type":"line","strokeWidth":1,"color":"#444444","interpolate":"monotone"},
"encoding":{"y":{"field":"v","type":"quantitative","title":null,"scale":{"domain":[-0.339,0.847],"nice":false,"zero":false},"axis":{"orient":"right","values":[0.63,0.31,0,-0.32],"labelExpr":"datum.value==0?'-0.00':format(datum.value,'.2f')"}}}},
{"data":{"name":"dea"},"mark":{"type":"line","strokeWidth":1,"color":"#f25cf2","interpolate":"monotone"},
"encoding":{"y":{"field":"v","type":"quantitative","title":null,"scale":{"domain":[-0.339,0.847],"nice":false,"zero":false},"axis":{"orient":"right","values":[0.63,0.31,0,-0.32],"labelExpr":"datum.value==0?'-0.00':format(datum.value,'.2f')"}}}},
{"data":{"values":[{"i":-0.91,"t":"31 ↑"}]},"mark":{"type":"text","font":"DejaVu Sans Mono","fontSize":8,"color":"#ee44ee","align":"left","baseline":"middle"},
"encoding":{"y":{"datum":0.733,"type":"quantitative","title":null,"scale":{"domain":[-0.339,0.847],"nice":false,"zero":false},"axis":{"orient":"right","values":[0.63,0.31,0,-0.32],"labelExpr":"datum.value==0?'-0.00':format(datum.value,'.2f')"}},"text":{"field":"t"}}},
{"data":{"values":[{"i":2.49,"t":"MACD:0.066 ↓"}]},"mark":{"type":"text","font":"DejaVu Sans Mono","fontSize":8,"color":"#666666","align":"left","baseline":"middle"},
"encoding":{"y":{"datum":0.733,"type":"quantitative","title":null,"scale":{"domain":[-0.339,0.847],"nice":false,"zero":false},"axis":{"orient":"right","values":[0.63,0.31,0,-0.32],"labelExpr":"datum.value==0?'-0.00':format(datum.value,'.2f')"}},"text":{"field":"t"}}},
{"data":{"values":[{"i":110.55,"t":"改参数"},{"i":115.3,"t":"加指标"},{"i":120.2,"t":"换指标"}]},"mark":{"type":"text","font":"Noto Sans CJK SC","fontSize":9.5,"color":"#555555","align":"left","baseline":"middle"},
"encoding":{"y":{"datum":0.733,"type":"quantitative","title":null,"scale":{"domain":[-0.339,0.847],"nice":false,"zero":false},"axis":{"orient":"right","values":[0.63,0.31,0,-0.32],"labelExpr":"datum.value==0?'-0.00':format(datum.value,'.2f')"}},"text":{"field":"t"}}},
{"data":{"values":[{"i":125.77,"t":"⊠"}]},"mark":{"type":"text","font":"DejaVu Sans","fontSize":11,"color":"#9a9a9a","align":"center","baseline":"middle"},
"encoding":{"y":{"datum":0.733,"type":"quantitative","title":null,"scale":{"domain":[-0.339,0.847],"nice":false,"zero":false},"axis":{"orient":"right","values":[0.63,0.31,0,-0.32],"labelExpr":"datum.value==0?'-0.00':format(datum.value,'.2f')"}},"text":{"field":"t"}}},
{"data":{"values":[{"i":132.6}]},"mark":{"type":"rule","color":"#c8c8c8","strokeWidth":1},"encoding":{}}
]
},
{
"width":937,"height":79,
"encoding":{"x":{"field":"i","type":"quantitative","scale":{"domain":[-0.91,126.45],"nice":false,"zero":false},"axis":null}},
"layer":[
{"data":{"name":"kk"},"mark":{"type":"line","strokeWidth":1,"color":"#555555","interpolate":"monotone"},
"encoding":{"y":{"field":"v","type":"quantitative","title":null,"scale":{"domain":[17.04,105.9],"nice":false,"zero":false},"axis":{"orient":"right","values":[20,50,80],"format":".2f"}}}},
{"data":{"name":"dd"},"mark":{"type":"line","strokeWidth":1,"color":"#f25cf2","interpolate":"monotone"},
"encoding":{"y":{"field":"v","type":"quantitative","title":null,"scale":{"domain":[17.04,105.9],"nice":false,"zero":false},"axis":{"orient":"right","values":[20,50,80],"format":".2f"}}}},
{"data":{"values":[{"i":89.7,"i2":126.2}]},"mark":{"type":"rule","strokeWidth":4,"color":"#ff3030"},
"encoding":{"x2":{"field":"i2"},"y":{"datum":50,"type":"quantitative","title":null,"scale":{"domain":[17.04,105.9],"nice":false,"zero":false},"axis":{"orient":"right","values":[20,50,80],"format":".2f"}}}},
{"data":{"values":[{"i":108.2,"t":"KD在50医生，震荡偏多"}]},"mark":{"type":"text","font":"Noto Sans CJK SC","fontSize":16.5,"color":"#ff4545","opacity":0.88,"align":"center","baseline":"middle"},
"encoding":{"y":{"datum":66.5,"type":"quantitative","title":null,"scale":{"domain":[17.04,105.9],"nice":false,"zero":false},"axis":{"orient":"right","values":[20,50,80],"format":".2f"}},"text":{"field":"t"}}},
{"data":{"values":[{"i":110.55,"t":"改参数"},{"i":115.3,"t":"加指标"},{"i":120.2,"t":"换指标"}]},"mark":{"type":"text","font":"Noto Sans CJK SC","fontSize":9.5,"color":"#555555","align":"left","baseline":"middle"},
"encoding":{"y":{"datum":96.9,"type":"quantitative","title":null,"scale":{"domain":[17.04,105.9],"nice":false,"zero":false},"axis":{"orient":"right","values":[20,50,80],"format":".2f"}},"text":{"field":"t"}}},
{"data":{"values":[{"i":125.77,"t":"⊠"}]},"mark":{"type":"text","font":"DejaVu Sans","fontSize":11,"color":"#9a9a9a","align":"center","baseline":"middle"},
"encoding":{"y":{"datum":96.9,"type":"quantitative","title":null,"scale":{"domain":[17.04,105.9],"nice":false,"zero":false},"axis":{"orient":"right","values":[20,50,80],"format":".2f"}},"text":{"field":"t"}}},
{"data":{"values":[{"i":132.6}]},"mark":{"type":"rule","color":"#c8c8c8","strokeWidth":1},"encoding":{}}
]
}
]
}
